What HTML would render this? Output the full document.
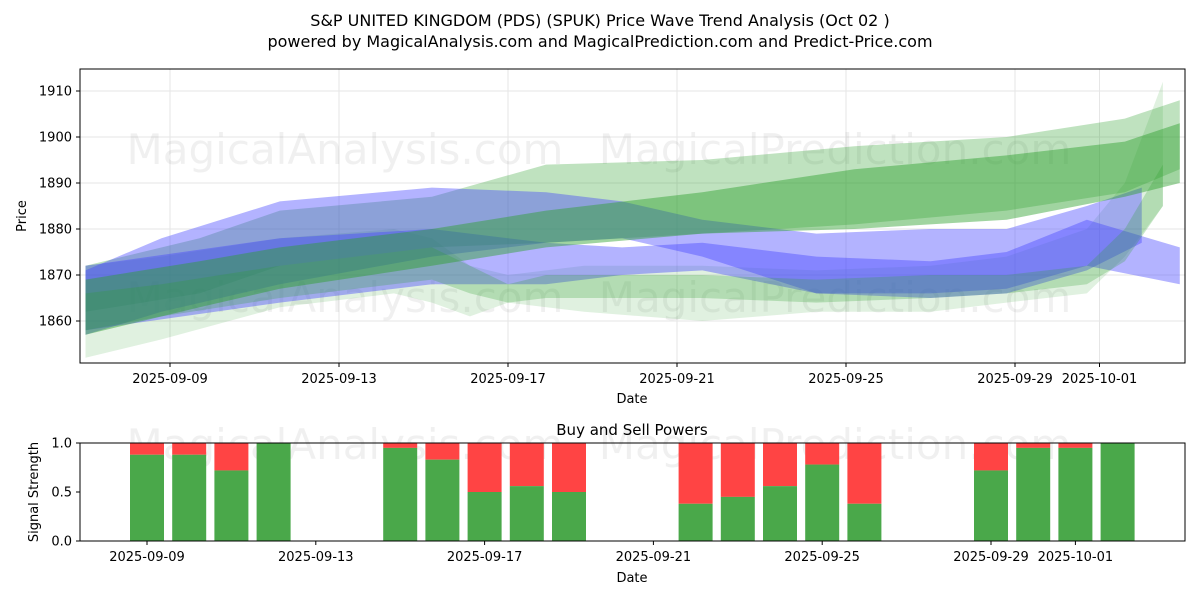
<!DOCTYPE html>
<html><head><meta charset="utf-8"><style>
body{margin:0;background:#fff;font-family:"Liberation Sans","DejaVu Sans",sans-serif}
svg text{font-family:"DejaVu Sans","Liberation Sans",sans-serif}
</style></head><body>
<svg id="c" width="1200" height="600" viewBox="0 0 1200 600" xmlns="http://www.w3.org/2000/svg">
<defs><clipPath id="pc"><rect x="80" y="69" width="1105" height="294"/></clipPath></defs>
<text x="600" y="26" text-anchor="middle" font-size="16">S&amp;P UNITED KINGDOM (PDS) (SPUK) Price Wave Trend Analysis (Oct 02 )</text>
<text x="600" y="47" text-anchor="middle" font-size="16">powered by MagicalAnalysis.com and MagicalPrediction.com and Predict-Price.com</text>
<g id="topg"></g><g id="botg"></g>
</svg>
<script>
const NS='http://www.w3.org/2000/svg';
// top chart data (days after 2025-09-07)
const priceTicks=[1860,1870,1880,1890,1900,1910];
const dateTicks=[['2025-09-09',2],['2025-09-13',6],['2025-09-17',10],['2025-09-21',14],['2025-09-25',18],['2025-09-29',22],['2025-10-01',24]];
const b1Days=[0,1.8,4.6,8.2,10.9,12.7,14.6,17.3,20,21.8,23.7,25];
const b1Up=[1871,1878,1886,1889,1888,1886,1882,1879,1880,1880,1885,1889];
const b1Lo=[1857,1862,1868,1874,1877,1878,1874,1866,1865,1866,1871,1877];
const b2Days=[0,4.6,8.2,10.9,12.7,14.6,17.3,20,21.8,23.7,25.9];
const b2Up=[1872,1878,1880,1877,1876,1877,1874,1873,1875,1882,1876];
const b2Lo=[1858,1864,1868,1868,1870,1871,1866,1866,1867,1872,1868];
const g1Days=[0,2.7,4.6,8.2,10.9,14.6,18.2,21.8,24.6,25.9];
const g1Up=[1869,1873,1876,1880,1884,1888,1893,1896,1899,1903];
const g1Lo=[1857,1863,1867,1872,1876,1879,1880,1882,1887,1890];
const g2Up=[1872,1878,1884,1887,1894,1895,1898,1900,1904,1908];
const g2Lo=[1862,1866,1872,1876,1877,1879,1881,1884,1888,1893];
const g3Days=[0,1.8,4.6,7.3,8.2,9.1,10,11.8,14.6,17.3,20,21.8,23.7,24.6,25.5];
const g3Up=[1872,1874,1878,1880,1878,1872,1870,1872,1872,1871,1872,1874,1880,1890,1912];
const g3Lo=[1852,1856,1863,1866,1864,1861,1864,1862,1860,1862,1862,1864,1866,1874,1885];
const g4Days=[0,1.8,4.6,8.2,9.1,10,10.9,14.6,17.3,20,21.8,23.7,24.6,25.5];
const g4Up=[1866,1868,1872,1876,1872,1868,1870,1870,1869,1870,1870,1872,1880,1894];
const g4Lo=[1858,1861,1865,1869,1866,1864,1865,1865,1864,1865,1866,1868,1873,1885];
// bottom chart data
const sigDays=[2,3,4,5,8,9,10,11,12,15,16,17,18,19,22,23,24,25];
const buyVals=[0.88,0.88,0.72,1.0,0.95,0.83,0.5,0.56,0.5,0.38,0.45,0.56,0.78,0.38,0.72,0.95,0.95,1.0];
const sigTicks=[0,0.5,1.0];

const L=80,R=1185,T=69,B=363;
const xT=d=>85.5+d*42.25, yT=v=>321-(v-1860)*4.6;
const BT=443,BB=541;
const xB=d=>62.6+d*42.2, yB=v=>BB-v*(BB-BT);
function el(p,tag,a,txt){const e=document.createElementNS(NS,tag);for(const k in a)e.setAttribute(k,a[k]);if(txt!=null)e.textContent=txt;p.appendChild(e);return e;}
const topG=document.getElementById('topg'),botG=document.getElementById('botg');
for(const v of priceTicks){const g=el(topG,'line',{x1:L,x2:R,y1:yT(v),y2:yT(v),stroke:'#e6e6e6'});

}
for(const [s,d] of dateTicks){const g=el(topG,'line',{x1:xT(d),x2:xT(d),y1:T,y2:B,stroke:'#e6e6e6'});

}
const wm=[[345,150],[835,150],[345,298],[835,298]];
const wt=['MagicalAnalysis.com','MagicalPrediction.com','MagicalAnalysis.com','MagicalPrediction.com'];
wm.forEach((p,i)=>{const t=el(topG,'text',{x:p[0],y:p[1]+14,'text-anchor':'middle','font-size':42,fill:'#000','fill-opacity':0.06},wt[i]);

});
const bandG=el(topG,'g',{'clip-path':'url(#pc)'});
function band(days,up,lo,fill,op,name){
 let pts=days.map((d,i)=>xT(d)+','+yT(up[i]));
 pts=pts.concat(days.map((d,i)=>xT(d)+','+yT(lo[i])).reverse());
 const p=el(bandG,'polygon',{points:pts.join(' '),fill:fill,'fill-opacity':op});
 
 }
band(g3Days,g3Up,g3Lo,'#2ca02c',0.15,'green-wave-band-low');
band(g1Days,g2Up,g2Lo,'#2ca02c',0.3,'green-wave-band-wide');
band(b2Days,b2Up,b2Lo,'#4040ff',0.4,'blue-wave-band-low');
band(b1Days,b1Up,b1Lo,'#4040ff',0.4,'blue-wave-band-high');
band(g1Days,g1Up,g1Lo,'#2ca02c',0.45,'green-wave-band-main');
band(g4Days,g4Up,g4Lo,'#2ca02c',0.25,'green-wave-band-narrow');
let f=el(topG,'rect',{x:L,y:T,width:R-L,height:B-T,fill:'none',stroke:'#000'});


for(const v of priceTicks){el(topG,'line',{x1:L-4,x2:L,y1:yT(v),y2:yT(v),stroke:'#000'});
const t=el(topG,'text',{x:L-8,y:yT(v)+4.5,'text-anchor':'end','font-size':13},String(v));

}
for(const [s,d] of dateTicks){el(topG,'line',{x1:xT(d),x2:xT(d),y1:B,y2:B+4,stroke:'#000'});
const t=el(topG,'text',{x:xT(d),y:B+20,'text-anchor':'middle','font-size':13},s);

}
let t1=el(topG,'text',{x:632,y:403,'text-anchor':'middle','font-size':13},'Date');


let t2=el(topG,'text',{x:26,y:216,'text-anchor':'middle','font-size':13,transform:'rotate(-90 26 216)'},'Price');


const wb=[[345,445],[835,445]];
wb.forEach((p,i)=>{const t=el(botG,'text',{x:p[0],y:p[1]+14,'text-anchor':'middle','font-size':42,fill:'#000','fill-opacity':0.06},wt[i]);

});
sigDays.forEach((d,i)=>{const x=xB(d)-17,v=buyVals[i];
const r=el(botG,'rect',{x:x,y:yB(1),width:34,height:yB(v)-yB(1),fill:'#ff4444'});


const g=el(botG,'rect',{x:x,y:yB(v),width:34,height:BB-yB(v),fill:'#4aa84a'});

});
f=el(botG,'rect',{x:L,y:BT,width:R-L,height:BB-BT,fill:'none',stroke:'#000'});


for(const v of sigTicks){el(botG,'line',{x1:L-4,x2:L,y1:yB(v),y2:yB(v),stroke:'#000'});
const t=el(botG,'text',{x:L-8,y:yB(v)+4.5,'text-anchor':'end','font-size':13},v.toFixed(1));

}
for(const [s,d] of dateTicks){const x=xB(d);el(botG,'line',{x1:x,x2:x,y1:BB,y2:BB+4,stroke:'#000'});
const t=el(botG,'text',{x:x,y:BB+20,'text-anchor':'middle','font-size':13},s);

}
let t3=el(botG,'text',{x:632,y:435,'text-anchor':'middle','font-size':15},'Buy and Sell Powers');


let t4=el(botG,'text',{x:632,y:582,'text-anchor':'middle','font-size':13},'Date');


let t5=el(botG,'text',{x:38,y:492,'text-anchor':'middle','font-size':13,transform:'rotate(-90 38 492)'},'Signal Strength');


</script>
</body></html>
